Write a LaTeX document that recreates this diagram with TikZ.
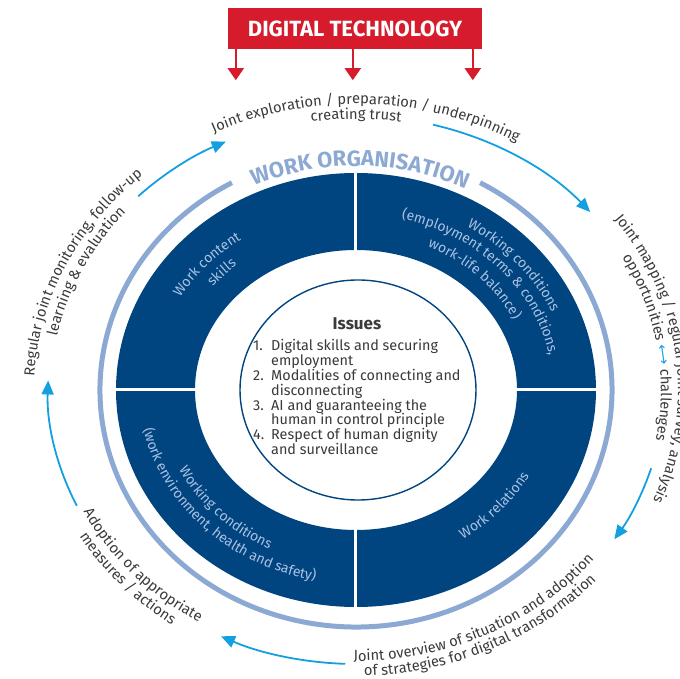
\documentclass[tikz,border=0pt]{standalone}
\usepackage{fontspec}
\setmainfont{Fira Sans}
\newfontfamily\symbolfont{DejaVu Sans}
\usetikzlibrary{arrows.meta,decorations.text}

\definecolor{ringblue}{HTML}{00457F}
\definecolor{orgblue}{HTML}{8CA9D3}
\definecolor{quadtext}{HTML}{A9C1E4}
\definecolor{cyclecyan}{HTML}{14A0E0}
\definecolor{techred}{HTML}{D51B2C}
\definecolor{textgray}{HTML}{3A3A3A}

\newcommand{\outerfmt}{\fontsize{14.7}{16}\selectfont\color{textgray}}
\newcommand{\quadfmt}{\fontsize{14}{16}\selectfont\color{quadtext}}
\newcommand{\orgfmt}{\fontsize{22}{24}\selectfont\bfseries\color{orgblue}}
\newcommand{\arrowfmt}{\symbolfont\fontsize{14}{16}\selectfont\color{cyclecyan}}

% text bent along an elliptic arc: mid angle, half span, x radius, y radius, format, text
\newcommand{\ringlabel}[6]{%
  \path[decorate, decoration={text along path, text align=center, text={|#5|#6}}]
    ({#1+#2}:#3 and #4) arc[start angle={#1+#2}, end angle={#1-#2}, x radius=#3, y radius=#4];}

\tikzset{
    techbox/.style = {
        fill=techred,
        text=white,
        font=\fontsize{22}{24}\selectfont\bfseries,
        minimum width=254pt,
        minimum height=41pt,
        inner sep=0pt
    },
    techarrow/.style = {
        draw=techred,
        line width=2pt,
        -{Triangle[length=12pt,width=16pt]}
    },
    cyclearrow/.style = {
        draw=cyclecyan,
        line width=1.8pt,
        -{Triangle[length=14pt,width=12pt]}
    },
    orgring/.style = {draw=orgblue, line width=5pt},
    divider/.style = {draw=white, line width=3pt},
    issuecircle/.style = {draw=ringblue, line width=1.4pt, fill=white},
    issuetext/.style = {
        text=textgray,
        font=\fontsize{14.4}{14.8}\selectfont,
        align=left,
        inner sep=0pt
    }
}

\begin{document}
\begin{tikzpicture}[x=1pt, y=1pt]
    \useasboundingbox (-356,-289) rectangle (324,390);
    \clip (-356,-289) rectangle (324,390);

    % header
    \node [techbox] (tech) at (-1,361.5) {DIGITAL TECHNOLOGY};
    \foreach \dx in {8,125,245}
        \draw [techarrow] ([xshift=\dx pt]tech.south west) -- ++(0,-31);

    % work organisation
    \fill [ringblue, even odd rule] (0,0) ellipse [x radius=240pt, y radius=217pt]
        (0,0) ellipse [x radius=161pt, y radius=140pt];
    \draw [divider] (0,217) -- (0,-217) (-240,0) -- (240,0);
    \draw [issuecircle] (2,0) ellipse [x radius=118pt, y radius=110pt];
    \draw [orgring] (119:256pt and 237pt) arc [start angle=119, end angle=421, x radius=256pt, y radius=237pt];
    \ringlabel{89}{60}{248pt}{224pt}{\orgfmt}{WORK ORGANISATION}

    \ringlabel{138}{40}{204pt}{182pt}{\quadfmt}{Work content}
    \ringlabel{137}{40}{184pt}{164pt}{\quadfmt}{skills}
    \ringlabel{40}{45}{214pt}{191pt}{\quadfmt}{Working conditions}
    \ringlabel{42.7}{55}{197pt}{176pt}{\quadfmt}{(employment terms {\&} conditions,}
    \ringlabel{45}{45}{176pt}{157pt}{\quadfmt}{work-life balance)}
    \ringlabel{224}{-45}{198pt}{177pt}{\quadfmt}{Working conditions}
    \ringlabel{224}{-60}{217pt}{194pt}{\quadfmt}{(work environment, health and safety)}
    \ringlabel{-42}{-40}{198pt}{177pt}{\quadfmt}{Work relations}

    % issues
    \node [issuetext, font=\fontsize{17}{18}\selectfont\bfseries, anchor=base] (issuestitle) at (1,60) {Issues};
    \node [issuetext, anchor=north west] (issuelist) at (-103,50.5) {%
        \makebox[18pt][l]{1.}Digital skills and securing\\
        \hspace*{18pt}employment\\
        \makebox[18pt][l]{2.}Modalities of connecting and\\
        \hspace*{18pt}disconnecting\\
        \makebox[18pt][l]{3.}AI and guaranteeing the\\
        \hspace*{18pt}human in control principle\\
        \makebox[18pt][l]{4.}Respect of human dignity\\
        \hspace*{18pt}and surveillance};

    % cycle
    \ringlabel{88}{60}{322pt}{286pt}{\outerfmt}{Joint exploration / preparation / underpinning}
    \ringlabel{90}{30}{305pt}{271pt}{\outerfmt}{creating trust}
    \ringlabel{6.6}{60}{322pt}{286pt}{\outerfmt}{Joint mapping / regular joint survey, analysis}
    \ringlabel{9}{40}{305pt}{271pt}{\outerfmt}{opportunities |\arrowfmt|⟷|\outerfmt| challenges}
    \ringlabel{-63.5}{-50}{305pt}{271pt}{\outerfmt}{Joint overview of situation and adoption}
    \ringlabel{-64}{-50}{322pt}{286pt}{\outerfmt}{of strategies for digital transformation}
    \ringlabel{222}{-35}{305pt}{271pt}{\outerfmt}{Adoption of appropriate}
    \ringlabel{222}{-35}{322pt}{286pt}{\outerfmt}{measures / actions}
    \ringlabel{155.5}{50}{322pt}{286pt}{\outerfmt}{Regular joint monitoring, follow-up}
    \ringlabel{155}{45}{305pt}{271pt}{\outerfmt}{learning {\&} evaluation}

    \draw [cyclearrow] (75.5:308pt and 274pt) arc [start angle=75.5, end angle=40.5, x radius=308pt, y radius=274pt];
    \draw [cyclearrow] (-16.6:308pt and 274pt) arc [start angle=-16.6, end angle=-33, x radius=308pt, y radius=274pt];
    \draw [cyclearrow] (268:308pt and 274pt) arc [start angle=268, end angle=244, x radius=308pt, y radius=274pt];
    \draw [cyclearrow] (205:308pt and 274pt) arc [start angle=205, end angle=178, x radius=308pt, y radius=274pt];
    \draw [cyclearrow] (135:308pt and 274pt) arc [start angle=135, end angle=115, x radius=308pt, y radius=274pt];
\end{tikzpicture}
\end{document}
